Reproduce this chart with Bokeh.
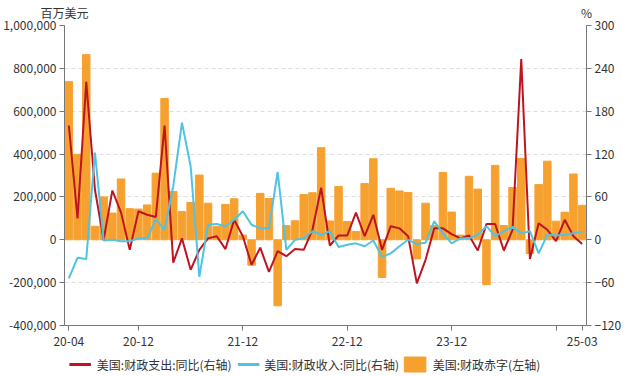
from bokeh.plotting import figure
from bokeh.layouts import column
from bokeh.models import (Range1d, LinearAxis, FixedTicker, NumeralTickFormatter,
                          ColumnDataSource)
from bokeh.core.properties import value
from bokeh.embed import file_html
from bokeh.resources import INLINE

# ---- data ----
months = []
for y in range(2020, 2026):
    for m in range(1, 13):
        if (y, m) >= (2020, 4) and (y, m) <= (2025, 3):
            months.append(f"{y % 100:02d}-{m:02d}")

deficit = [737985, 398806, 864074, 62995, 200007, 124609, 283962, 145313, 143632, 162830,
           310911, 659605, 225615, 131990, 174162, 302062, 170644, 61541, 165052, 191320,
           21317, -118744, 216647, 192652, -308221, 66193, 88832, 211084, 219577, 429679,
           87845, 248535, 85039, 38823, 262409, 378099, -176157, 240328, 227779, 220776,
           -89270, 170672, 66562, 314011, 129374, 21932, 296297, 236491, -209545, 347114,
           66251, 243742, 379539, -64320, 257454, 366758, 86730, 128635, 307020, 160530]

spend_yoy = [160, 30, 221, 70, 0, 69, 38, -14, 40, 35,
             32, 160, -32, 2, -42, -14, 2, 5, -13, 28,
             5, -35, -11, -45, -16, -23, -13, -14, 14, 73,
             -8, 6, 6, 38, 5, 35, -14, 19, 16, 5,
             -61, -28, 16, 16, 8, 2, 6, -15, 22, 22,
             -15, 14, 253, -27, 23, 14, -2, 28, 5, -6]

revenue_yoy = [-54, -25, -27, 122, -1, 0, -2, -2, 2, 2,
               29, 14, 75, 164, 103, -52, 21, 22, 19, 28,
               40, 21, 16, 16, 95, -14, 0, 2, 12, 7,
               12, -10, -7, -5, -9, -1, -24, -19, -9, 0,
               -6, -4, 26, 9, -5, 2, 2, 7, 19, 5,
               12, 18, 9, 12, -19, 7, 6, 7, 9, 11]

tick_labels = ["20-04", "20-12", "21-12", "22-12", "23-12", "", "25-03"]
tick_months = ["20-04", "20-12", "21-12", "22-12", "23-12", "24-12", "25-03"]

left_ticks = [-400000, -200000, 0, 200000, 400000, 600000, 800000, 1000000]
right_ticks = [-120, -60, 0, 60, 120, 180, 240, 300]

left_unit = "百万美元"
right_unit = "%"
names = ["美国:财政支出:同比(右轴)", "美国:财政收入:同比(右轴)", "美国:财政赤字(左轴)"]

# ---- style ----
FONT = "Noto Sans CJK SC"
TXT = "#333333"
AX = "#777777"
C_BAR = "#F6A12F"
C_SPEND = "#BE1420"
C_REV = "#4EC3E2"
W, BL, BR = 624, 59, 32

idx = list(range(len(months)))
src = ColumnDataSource(dict(x=idx, d=deficit, s=spend_yoy, r=revenue_yoy))

# ---- main chart ----
p = figure(width=W, height=348, output_backend="svg", toolbar_location=None,
           x_range=Range1d(-0.5, len(months) - 0.5),
           y_range=Range1d(left_ticks[0], left_ticks[-1]),
           min_border_left=BL, min_border_right=BR, min_border_top=0, min_border_bottom=0)
p.extra_y_ranges = {"pct": Range1d(right_ticks[0], right_ticks[-1])}
p.outline_line_color = None

p.vbar(x="x", top="d", width=0.86, source=src, color=C_BAR)
p.line(x="x", y="s", source=src, y_range_name="pct", line_color=C_SPEND, line_width=2)
p.line(x="x", y="r", source=src, y_range_name="pct", line_color=C_REV, line_width=2)

p.xgrid.visible = False
p.ygrid.ticker = FixedTicker(ticks=left_ticks)
p.ygrid.grid_line_color = "#dddddd"
p.ygrid.grid_line_dash = "4 3"

xa = p.xaxis[0]
tick_pos = [months.index(m) for m in tick_months]
xa.ticker = FixedTicker(ticks=tick_pos)
xa.major_label_overrides = {pos: lab for pos, lab in zip(tick_pos, tick_labels)}
xa.minor_tick_line_color = None

ya = p.yaxis[0]
ya.ticker = FixedTicker(ticks=left_ticks)
ya.formatter = NumeralTickFormatter(format="0,0")
ya.minor_tick_line_color = None

ra = LinearAxis(y_range_name="pct", ticker=FixedTicker(ticks=right_ticks))
ra.minor_tick_line_color = None
p.add_layout(ra, "right")

# unit captions above the two y axes (an invisible top axis carrying them)
ua = LinearAxis(ticker=FixedTicker(ticks=[-0.49, len(months) - 0.51]))
ua.major_label_overrides = {-0.49: left_unit, len(months) - 0.51: right_unit}
ua.axis_line_color = None
ua.major_tick_line_color = None
ua.minor_tick_line_color = None
p.add_layout(ua, "above")

for a in (xa, ya, ra, ua):
    a.major_tick_out = 5
    a.major_tick_in = 0
    a.major_label_text_font = FONT
    a.major_label_text_font_size = "12px"
    a.major_label_text_color = TXT
for a in (ya, ra):
    a.axis_line_color = AX
    a.major_tick_line_color = AX
    a.major_label_standoff = 3
xa.axis_line_color = AX
xa.major_tick_line_color = AX
xa.major_label_standoff = 6
ua.major_tick_out = 0
ua.major_label_standoff = 5

# ---- legend strip (its frame is aligned with the main frame; x in figure pixels) ----
LH = 32
lg = figure(width=W, height=LH, output_backend="svg", toolbar_location=None,
            x_range=Range1d(BL, W - BR), y_range=Range1d(0, LH),
            x_axis_type=None, y_axis_type=None,
            min_border_left=BL, min_border_right=BR, min_border_top=0, min_border_bottom=0)
lg.outline_line_color = None
lg.xgrid.visible = False
lg.ygrid.visible = False

item_x = [64, 236, 406]
text_dx = [28, 27, 29]
cy = 16
lg.segment(x0=[item_x[0], item_x[1]], y0=[cy, cy], x1=[item_x[0] + 22, item_x[1] + 22],
           y1=[cy, cy], line_color=[C_SPEND, C_REV], line_width=3)
lg.rect(x=[item_x[2] + 11], y=[cy], width=22, height=15, fill_color=C_BAR, line_color=C_BAR)
lg.text(x=[xx + dx for xx, dx in zip(item_x, text_dx)], y=[cy] * 3, text=names,
        text_font=value(FONT), text_font_size="12px", text_color=TXT,
        text_baseline="middle", text_align="left")

open("out.html", "w").write(file_html(column(p, lg, spacing=0), INLINE))
